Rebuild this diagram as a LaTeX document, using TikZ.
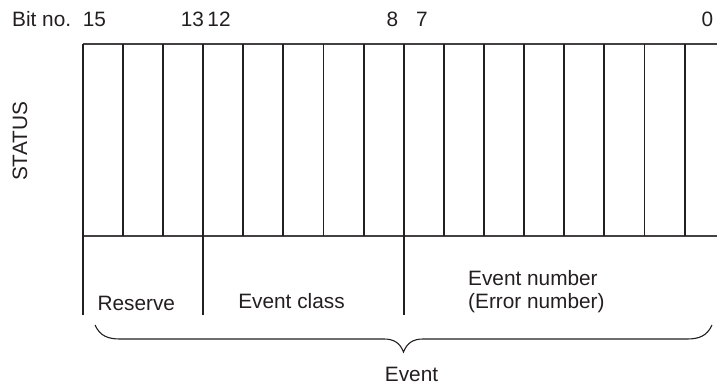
\documentclass[tikz,border=0pt]{standalone}
\usepackage{fontspec}
\setmainfont{Liberation Sans}
\definecolor{ink}{HTML}{231F20}
\tikzset{
  txt/.style={inner sep=0pt, text=ink, font=\fontsize{20.8}{23}\selectfont},
  gridline/.style={draw=ink, line width=1.8pt},
  frameline/.style={draw=ink!85, line width=1.5pt},
  bracket/.style={draw=ink, line width=1.1pt}
}
\begin{document}
\begin{tikzpicture}[x=1pt,y=-1pt]
\useasboundingbox (0,0) rectangle (717,388);
% bit numbers
\node[txt, anchor=base west] (bitno) at (12,27) {Bit no.};
\node[txt, anchor=base] (b15) at (94.5,27) {15};
\node[txt, anchor=base] (b13) at (192.5,27) {13};
\node[txt, anchor=base] (b12) at (219,27) {12};
\node[txt, anchor=base] (b8) at (392.5,27) {8};
\node[txt, anchor=base] (b7) at (422,27) {7};
\node[txt, anchor=base] (b0) at (707.5,27) {0};
\node[txt, rotate=90] (status) at (20,141.5) {STATUS};
% register grid
\draw[frameline] (82.7,44) -- (717,44);
\draw[frameline] (82.7,236) -- (717,236);
\foreach \i in {1,...,15} {
  \draw[gridline] ({82.7+40.13*\i},44) -- ({82.7+40.13*\i},236);
}
\draw[gridline] (82.7,44) -- (82.7,315);
\draw[gridline] (203.3,236) -- (203.3,315);
\draw[gridline] (404,236) -- (404,315);
% field labels
\node[txt, anchor=base] (reserve) at (136.3,310) {Reserve};
\node[txt, anchor=base] (evclass) at (291.5,308) {Event class};
\node[txt, anchor=base west] (evnum) at (468,285) {Event number};
\node[txt, anchor=base west] (errnum) at (468,308) {(Error number)};
% brace
\coordinate (brL) at (95,325);
\coordinate (brT) at (403.5,352);
\coordinate (brR) at (712,325);
\draw[bracket] (brL) .. controls (100,336) and (108,339) .. (120,339)
  -- (384,339) .. controls (394,339) and (400,343) .. (brT)
  .. controls (407,343) and (413,339) .. (423,339)
  -- (687,339) .. controls (699,339) and (707,336) .. (brR);
\node[txt, anchor=base] (event) at (411.5,381) {Event};
\end{tikzpicture}
\end{document}
